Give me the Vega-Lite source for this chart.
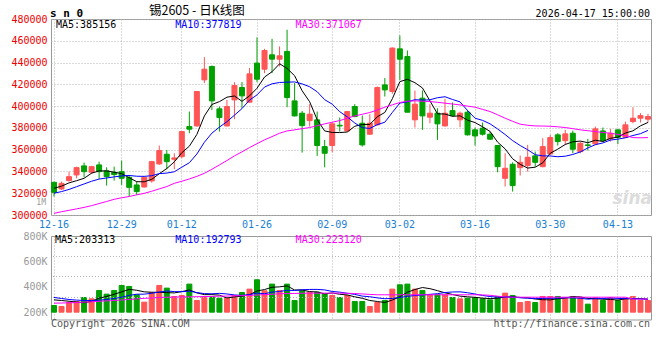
{
 "$schema": "https://vega.github.io/schema/vega-lite/v6.json",
 "background": "#ffffff",
 "padding": {"left": 10, "top": 4, "right": 0, "bottom": 0},
 "spacing": 21,
 "bounds": "flush",
 "config": {
  "view": {"stroke": "#999999", "strokeWidth": 1},
  "axis": {"labelFont": "DejaVu Sans Mono", "labelFontSize": 10, "ticks": false, "domain": false, "title": null, "gridColor": "#b4b4b4", "gridDash": [1, 2], "gridWidth": 1, "labelPadding": 4, "labelOverlap": false},
  "text": {"font": "DejaVu Sans Mono", "fontSize": 10, "baseline": "middle"}
 },
 "datasets": {
  "k": [
{"d":"12-16","o":330000,"h":330700,"l":316900,"c":320800,"v":252600,"m5":324500,"m10":320000,"m30":301500,"vm5":297000,"vm10":316000,"vm30":271000},
{"d":"12-17","o":323900,"h":330700,"l":323000,"c":329100,"v":244700,"m5":326500,"m10":321500,"m30":303000,"vm5":292000,"vm10":308000,"vm30":272000},
{"d":"12-18","o":331600,"h":339800,"l":330700,"c":335200,"v":276300,"m5":329500,"m10":323500,"m30":304300,"vm5":286000,"vm10":300000,"vm30":274000},
{"d":"12-19","o":336800,"h":344400,"l":333700,"c":343500,"v":284200,"m5":331500,"m10":326000,"m30":305600,"vm5":280000,"vm10":295000,"vm30":276000},
{"d":"12-22","o":345100,"h":348100,"l":334600,"c":339800,"v":315800,"m5":333700,"m10":328500,"m30":307000,"vm5":274700,"vm10":292000,"vm30":279000},
{"d":"12-23","o":339200,"h":345100,"l":337700,"c":344400,"v":305300,"m5":338400,"m10":331000,"m30":308600,"vm5":285300,"vm10":292000,"vm30":282000},
{"d":"12-24","o":346000,"h":349000,"l":333100,"c":339800,"v":371100,"m5":340500,"m10":333000,"m30":310500,"vm5":310500,"vm10":294000,"vm30":286000},
{"d":"12-25","o":340500,"h":343800,"l":327000,"c":335200,"v":342100,"m5":340500,"m10":334000,"m30":312400,"vm5":323700,"vm10":300000,"vm30":289000},
{"d":"12-26","o":339200,"h":344400,"l":331600,"c":337100,"v":371100,"m5":339300,"m10":335000,"m30":314400,"vm5":341100,"vm10":308000,"vm30":292000},
{"d":"12-29","o":339800,"h":350000,"l":327600,"c":333700,"v":410600,"m5":338000,"m10":335900,"m30":315800,"vm5":360000,"vm10":317400,"vm30":296000},
{"d":"12-30","o":334600,"h":336800,"l":316900,"c":325400,"v":402700,"m5":334200,"m10":336300,"m30":317000,"vm5":379500,"vm10":332400,"vm30":300000},
{"d":"12-31","o":327600,"h":330700,"l":318400,"c":321500,"v":336900,"m5":330600,"m10":335600,"m30":318500,"vm5":372700,"vm10":341600,"vm30":305000},
{"d":"01-05","o":325700,"h":335200,"l":325400,"c":334600,"v":279000,"m5":330500,"m10":335500,"m30":319900,"vm5":360100,"vm10":341900,"vm30":309000},
{"d":"01-06","o":331300,"h":349700,"l":329700,"c":349000,"v":355300,"m5":332800,"m10":336100,"m30":321800,"vm5":356900,"vm10":349000,"vm30":312000},
{"d":"01-07","o":346900,"h":363800,"l":346000,"c":359200,"v":410600,"m5":337900,"m10":338000,"m30":324000,"vm5":356900,"vm10":358500,"vm30":316000},
{"d":"01-08","o":355800,"h":359800,"l":342000,"c":349000,"v":389500,"m5":342700,"m10":338500,"m30":326100,"vm5":354300,"vm10":366900,"vm30":318000},
{"d":"01-09","o":351200,"h":356700,"l":342000,"c":352400,"v":323700,"m5":348800,"m10":339700,"m30":329100,"vm5":351600,"vm10":362200,"vm30":319000},
{"d":"01-12","o":353600,"h":377200,"l":352100,"c":376600,"v":331600,"m5":357200,"m10":343900,"m30":331000,"vm5":362100,"vm10":361100,"vm30":320000},
{"d":"01-13","o":381200,"h":395000,"l":375100,"c":378800,"v":421100,"m5":363200,"m10":348000,"m30":333100,"vm5":375300,"vm10":366100,"vm30":321000},
{"d":"01-14","o":381800,"h":413400,"l":381200,"c":413400,"v":292100,"m5":374000,"m10":356000,"m30":335500,"vm5":351600,"vm10":354300,"vm30":322000},
{"d":"01-15","o":424100,"h":445000,"l":421100,"c":433900,"v":323700,"m5":391000,"m10":366800,"m30":338300,"vm5":338400,"vm10":346400,"vm30":323000},
{"d":"01-16","o":436400,"h":437300,"l":396500,"c":404800,"v":323700,"m5":401500,"m10":375200,"m30":342000,"vm5":338400,"vm10":345000,"vm30":324000},
{"d":"01-19","o":397500,"h":399600,"l":376600,"c":389500,"v":310500,"m5":404100,"m10":380700,"m30":346000,"vm5":334200,"vm10":348200,"vm30":326000},
{"d":"01-20","o":381800,"h":405700,"l":381200,"c":399600,"v":310500,"m5":408200,"m10":385700,"m30":350000,"vm5":312100,"vm10":343700,"vm30":327000},
{"d":"01-21","o":405700,"h":422000,"l":388000,"c":418900,"v":331600,"m5":409300,"m10":391700,"m30":354300,"vm5":320000,"vm10":335800,"vm30":329000},
{"d":"01-22","o":417100,"h":422000,"l":398100,"c":409400,"v":355300,"m5":404400,"m10":397700,"m30":358000,"vm5":326300,"vm10":332400,"vm30":330000},
{"d":"01-23","o":403600,"h":434900,"l":403300,"c":429600,"v":381600,"m5":409400,"m10":405500,"m30":361900,"vm5":337900,"vm10":338200,"vm30":332000},
{"d":"01-26","o":439500,"h":463100,"l":422000,"c":424700,"v":455300,"m5":416400,"m10":410300,"m30":365500,"vm5":366900,"vm10":350500,"vm30":335000},
{"d":"01-27","o":433900,"h":452600,"l":430300,"c":451100,"v":368400,"m5":426700,"m10":417500,"m30":369000,"vm5":378400,"vm10":345300,"vm30":338000},
{"d":"01-28","o":447100,"h":461800,"l":430300,"c":443100,"v":421100,"m5":431600,"m10":420500,"m30":372000,"vm5":396300,"vm10":358200,"vm30":341000},
{"d":"01-29","o":443100,"h":454800,"l":436400,"c":446200,"v":371100,"m5":438900,"m10":421700,"m30":375100,"vm5":399500,"vm10":362900,"vm30":345000},
{"d":"01-30","o":450200,"h":470100,"l":399000,"c":407900,"v":421100,"m5":434600,"m10":422000,"m30":377200,"vm5":407400,"vm10":372700,"vm30":347000},
{"d":"02-02","o":404800,"h":421100,"l":390500,"c":391000,"v":292100,"m5":427900,"m10":422200,"m30":378200,"vm5":374800,"vm10":370800,"vm30":348000},
{"d":"02-03","o":393500,"h":395600,"l":357300,"c":382100,"v":368400,"m5":414100,"m10":420400,"m30":379300,"vm5":374800,"vm10":376600,"vm30":349000},
{"d":"02-04","o":386700,"h":401800,"l":381200,"c":392600,"v":357900,"m5":404000,"m10":417800,"m30":380300,"vm5":362100,"vm10":379200,"vm30":350000},
{"d":"02-05","o":387400,"h":395000,"l":354300,"c":363800,"v":357900,"m5":387500,"m10":413200,"m30":382000,"vm5":359500,"vm10":379500,"vm30":350000},
{"d":"02-06","o":362800,"h":369000,"l":343800,"c":356700,"v":342100,"m5":377200,"m10":405900,"m30":383700,"vm5":343700,"vm10":375500,"vm30":350000},
{"d":"02-09","o":363800,"h":384900,"l":357600,"c":383700,"v":331600,"m5":375800,"m10":401800,"m30":385200,"vm5":351600,"vm10":363200,"vm30":350000},
{"d":"02-10","o":382400,"h":389500,"l":376600,"c":381800,"v":315800,"m5":375700,"m10":394900,"m30":386700,"vm5":341100,"vm10":357900,"vm30":350000},
{"d":"02-11","o":377200,"h":395600,"l":376600,"c":395000,"v":331600,"m5":376200,"m10":390100,"m30":388900,"vm5":335800,"vm10":349000,"vm30":349000},
{"d":"02-12","o":399600,"h":401800,"l":389800,"c":390400,"v":284200,"m5":381500,"m10":384500,"m30":391000,"vm5":321100,"vm10":340300,"vm30":347000},
{"d":"02-13","o":384300,"h":391300,"l":362800,"c":364400,"v":284200,"m5":383100,"m10":380200,"m30":392500,"vm5":309500,"vm10":326600,"vm30":344000},
{"d":"02-24","o":374200,"h":392600,"l":373600,"c":384300,"v":244700,"m5":383200,"m10":379500,"m30":394100,"vm5":292100,"vm10":321800,"vm30":340000},
{"d":"02-25","o":382800,"h":418000,"l":382100,"c":417100,"v":276300,"m5":390200,"m10":383000,"m30":396500,"vm5":284200,"vm10":312600,"vm30":337000},
{"d":"02-26","o":419500,"h":425700,"l":408800,"c":414900,"v":292100,"m5":394200,"m10":385200,"m30":399000,"vm5":276300,"vm10":306100,"vm30":337000},
{"d":"02-27","o":413400,"h":453900,"l":411300,"c":453300,"v":381600,"m5":406800,"m10":394200,"m30":401200,"vm5":295800,"vm10":308400,"vm30":337000},
{"d":"03-02","o":452600,"h":464900,"l":424100,"c":443100,"v":415800,"m5":422500,"m10":402800,"m30":403300,"vm5":322100,"vm10":315800,"vm30":337000},
{"d":"03-03","o":445600,"h":451100,"l":394400,"c":394400,"v":421100,"m5":424600,"m10":403900,"m30":404500,"vm5":357400,"vm10":324700,"vm30":337000},
{"d":"03-04","o":387400,"h":414300,"l":380300,"c":401800,"v":381600,"m5":421500,"m10":405900,"m30":404800,"vm5":378400,"vm10":331300,"vm30":337000},
{"d":"03-05","o":407300,"h":414300,"l":378200,"c":391000,"v":371100,"m5":416700,"m10":405500,"m30":404500,"vm5":394200,"vm10":335300,"vm30":337000},
{"d":"03-06","o":389800,"h":401800,"l":384300,"c":393500,"v":336900,"m5":404800,"m10":405800,"m30":404200,"vm5":385300,"vm10":340500,"vm30":337000},
{"d":"03-09","o":393500,"h":398100,"l":369000,"c":383700,"v":336900,"m5":392900,"m10":407700,"m30":403500,"vm5":369500,"vm10":345800,"vm30":337000},
{"d":"03-10","o":381800,"h":406700,"l":381200,"c":393500,"v":336900,"m5":392700,"m10":408600,"m30":402700,"vm5":352700,"vm10":355000,"vm30":337000},
{"d":"03-11","o":395900,"h":403300,"l":390400,"c":391300,"v":315800,"m5":390600,"m10":406100,"m30":401900,"vm5":339500,"vm10":359000,"vm30":337000},
{"d":"03-12","o":387400,"h":395000,"l":380600,"c":393500,"v":305300,"m5":391100,"m10":403900,"m30":401100,"vm5":326400,"vm10":360300,"vm30":337000},
{"d":"03-13","o":394400,"h":396500,"l":373000,"c":373600,"v":310500,"m5":387100,"m10":395900,"m30":400000,"vm5":321100,"vm10":353200,"vm30":337000},
{"d":"03-16","o":378200,"h":380300,"l":363800,"c":372600,"v":315800,"m5":384900,"m10":388900,"m30":399000,"vm5":316900,"vm10":343200,"vm30":337000},
{"d":"03-17","o":379700,"h":384900,"l":373000,"c":374200,"v":305300,"m5":381000,"m10":386900,"m30":397000,"vm5":310500,"vm10":331600,"vm30":336000},
{"d":"03-18","o":374200,"h":376600,"l":369000,"c":369600,"v":297400,"m5":376700,"m10":383700,"m30":395000,"vm5":306900,"vm10":323200,"vm30":333000},
{"d":"03-19","o":363800,"h":364400,"l":339200,"c":344400,"v":323700,"m5":366900,"m10":379000,"m30":392000,"vm5":310500,"vm10":318500,"vm30":326000},
{"d":"03-20","o":333700,"h":356700,"l":326100,"c":342900,"v":350000,"m5":360700,"m10":373900,"m30":388900,"vm5":318400,"vm10":319800,"vm30":320000},
{"d":"03-23","o":346600,"h":348400,"l":321500,"c":327000,"v":331600,"m5":351600,"m10":368300,"m30":386000,"vm5":321600,"vm10":319200,"vm30":318000},
{"d":"03-24","o":343500,"h":354600,"l":336200,"c":348400,"v":276300,"m5":346500,"m10":363800,"m30":383400,"vm5":315800,"vm10":313200,"vm30":318000},
{"d":"03-25","o":345400,"h":364400,"l":339800,"c":353000,"v":284200,"m5":343100,"m10":359900,"m30":382400,"vm5":313200,"vm10":310000,"vm30":318000},
{"d":"03-26","o":354300,"h":358200,"l":344400,"c":348400,"v":276300,"m5":343900,"m10":355400,"m30":381800,"vm5":303700,"vm10":307100,"vm30":318000},
{"d":"03-27","o":344400,"h":370500,"l":343800,"c":362800,"v":323700,"m5":347900,"m10":354300,"m30":381700,"vm5":298400,"vm10":308400,"vm30":318000},
{"d":"03-30","o":356100,"h":373600,"l":355200,"c":371100,"v":323700,"m5":356700,"m10":354200,"m30":381500,"vm5":296800,"vm10":309200,"vm30":318000},
{"d":"03-31","o":373600,"h":375100,"l":363800,"c":367400,"v":323700,"m5":360500,"m10":353500,"m30":381000,"vm5":306300,"vm10":311100,"vm30":318000},
{"d":"04-01","o":368300,"h":378200,"l":364400,"c":374500,"v":315800,"m5":364800,"m10":354000,"m30":380300,"vm5":312600,"vm10":312900,"vm30":318000},
{"d":"04-02","o":375100,"h":377500,"l":356700,"c":360400,"v":323700,"m5":367200,"m10":355600,"m30":379300,"vm5":322100,"vm10":312900,"vm30":318000},
{"d":"04-03","o":358200,"h":367400,"l":356700,"c":365900,"v":315800,"m5":367900,"m10":357900,"m30":378200,"vm5":320500,"vm10":309500,"vm30":318000},
{"d":"04-07","o":364400,"h":369900,"l":359200,"c":363800,"v":263200,"m5":366400,"m10":361600,"m30":377400,"vm5":308400,"vm10":302600,"vm30":318000},
{"d":"04-08","o":365300,"h":381200,"l":364400,"c":379100,"v":315800,"m5":368700,"m10":364600,"m30":376600,"vm5":306900,"vm10":306600,"vm30":318000},
{"d":"04-09","o":377200,"h":380300,"l":367400,"c":368300,"v":292100,"m5":367500,"m10":366200,"m30":375800,"vm5":302100,"vm10":307400,"vm30":318000},
{"d":"04-10","o":369900,"h":379100,"l":367400,"c":375100,"v":315800,"m5":370400,"m10":368800,"m30":375100,"vm5":300500,"vm10":311300,"vm30":318000},
{"d":"04-13","o":378200,"h":378800,"l":365000,"c":371400,"v":292100,"m5":371500,"m10":369700,"m30":374000,"vm5":295800,"vm10":308200,"vm30":318000},
{"d":"04-14","o":371400,"h":385800,"l":370800,"c":382800,"v":310500,"m5":375300,"m10":370900,"m30":372900,"vm5":305300,"vm10":306900,"vm30":318000},
{"d":"04-15","o":385800,"h":399000,"l":384300,"c":388900,"v":323700,"m5":377300,"m10":373000,"m30":371100,"vm5":306800,"vm10":306900,"vm30":303000},
{"d":"04-16","o":388900,"h":393500,"l":384900,"c":391300,"v":292100,"m5":381900,"m10":374700,"m30":370900,"vm5":306800,"vm10":304500,"vm30":303000},
{"d":"04-17","o":388000,"h":392900,"l":384900,"c":390400,"v":292100,"m5":385000,"m10":377700,"m30":371100,"vm5":302100,"vm10":301300,"vm30":303000}
  ]
 },
 "vconcat": [
  {
   "width": 600,
   "height": 196,
   "data": {"name": "k"},
   "layer": [
    {
     "mark": {"type": "rule", "strokeWidth": 1},
     "encoding": {
      "x": {"field": "d", "type": "ordinal",
       "scale": {"domain": ["12-16","12-17","12-18","12-19","12-22","12-23","12-24","12-25","12-26","12-29","12-30","12-31","01-05","01-06","01-07","01-08","01-09","01-12","01-13","01-14","01-15","01-16","01-19","01-20","01-21","01-22","01-23","01-26","01-27","01-28","01-29","01-30","02-02","02-03","02-04","02-05","02-06","02-09","02-10","02-11","02-12","02-13","02-24","02-25","02-26","02-27","03-02","03-03","03-04","03-05","03-06","03-09","03-10","03-11","03-12","03-13","03-16","03-17","03-18","03-19","03-20","03-23","03-24","03-25","03-26","03-27","03-30","03-31","04-01","04-02","04-03","04-07","04-08","04-09","04-10","04-13","04-14","04-15","04-16","04-17"], "paddingInner": 0.2, "paddingOuter": 0},
       "axis": {"values": ["12-16","12-29","01-12","01-26","02-09","03-02","03-16","03-30","04-13"], "labelColor": "#1a7fd4", "labelAngle": 0, "grid": true, "bandPosition": 0.5, "labelOverlap": false}},
      "y": {"field": "h", "type": "quantitative",
       "scale": {"domain": [300000, 480000], "nice": false, "zero": false},
       "axis": {"values": [300000,320000,340000,360000,380000,400000,420000,440000,460000,480000], "tickCount": 30, "format": "d", "labelColor": "#ee0000", "grid": true, "labelOverlap": false}},
      "y2": {"field": "l"},
      "color": {"condition": {"test": "datum.c >= datum.o", "value": "#ff5555"}, "value": "#00a000"}
     }
    },
    {
     "mark": {"type": "bar", "width": 5, "strokeWidth": 1},
     "encoding": {
      "x": {"field": "d", "type": "ordinal"},
      "y": {"field": "o", "type": "quantitative"},
      "y2": {"field": "c"},
      "color": {"condition": {"test": "datum.c >= datum.o", "value": "#ff5555"}, "value": "#00a000"},
      "stroke": {"condition": {"test": "datum.c >= datum.o", "value": "#ff5555"}, "value": "#00a000"}
     }
    },
    {"mark": {"type": "line", "color": "#000000", "strokeWidth": 1}, "encoding": {"x": {"field": "d", "type": "ordinal"}, "y": {"field": "m5", "type": "quantitative"}}},
    {"mark": {"type": "line", "color": "#0000ff", "strokeWidth": 1}, "encoding": {"x": {"field": "d", "type": "ordinal"}, "y": {"field": "m10", "type": "quantitative"}}},
    {"mark": {"type": "line", "color": "#ff00ff", "strokeWidth": 1}, "encoding": {"x": {"field": "d", "type": "ordinal"}, "y": {"field": "m30", "type": "quantitative"}}},
    {"data": {"values": [{}]}, "mark": {"type": "text", "text": "s n 0", "align": "left", "dx": -4, "fontSize": 11, "fontWeight": "bold", "color": "#000000"}, "encoding": {"x": {"datum": "12-16", "type": "ordinal"}, "y": {"datum": 485000, "type": "quantitative"}}},
    {"data": {"values": [{}]}, "mark": {"type": "text", "text": "锡2605 - 日K线图", "align": "center", "font": "Noto Sans CJK SC", "fontSize": 12.5, "color": "#000000"}, "encoding": {"x": {"datum": "01-14", "type": "ordinal"}, "y": {"datum": 487000, "type": "quantitative"}}},
    {"data": {"values": [{}]}, "mark": {"type": "text", "text": "2026-04-17 15:00:00", "align": "right", "dx": 2, "color": "#000000"}, "encoding": {"x": {"datum": "04-17", "type": "ordinal"}, "y": {"datum": 485000, "type": "quantitative"}}},
    {"data": {"values": [{}]}, "mark": {"type": "text", "text": "MA5:385156", "align": "left", "dx": 2, "color": "#000000"}, "encoding": {"x": {"datum": "12-16", "type": "ordinal"}, "y": {"datum": 474500, "type": "quantitative"}}},
    {"data": {"values": [{}]}, "mark": {"type": "text", "text": "MA10:377819", "align": "left", "dx": 1, "color": "#0000ff"}, "encoding": {"x": {"datum": "01-09", "type": "ordinal"}, "y": {"datum": 474500, "type": "quantitative"}}},
    {"data": {"values": [{}]}, "mark": {"type": "text", "text": "MA30:371067", "align": "left", "dx": 1, "color": "#ff00ff"}, "encoding": {"x": {"datum": "02-02", "type": "ordinal"}, "y": {"datum": 474500, "type": "quantitative"}}},
    {"data": {"values": [{}]}, "mark": {"type": "text", "text": "1M", "align": "right", "dx": -8, "fontSize": 8, "color": "#999999"}, "encoding": {"x": {"datum": "12-16", "type": "ordinal"}, "y": {"datum": 310600, "type": "quantitative"}}},
    {"data": {"values": [{}]}, "mark": {"type": "text", "text": "sina", "align": "right", "dx": 4, "font": "DejaVu Sans", "fontSize": 17, "fontWeight": "bold", "fontStyle": "italic", "color": "#dcdcdc"}, "encoding": {"x": {"datum": "04-17", "type": "ordinal"}, "y": {"datum": 315000, "type": "quantitative"}}}
   ]
  },
  {
   "width": 600,
   "height": 83.5,
   "layer": [
    {
     "data": {"name": "k"},
     "mark": {"type": "bar", "width": 5, "strokeWidth": 1},
     "encoding": {
      "x": {"field": "d", "type": "ordinal",
       "scale": {"domain": ["12-16","12-17","12-18","12-19","12-22","12-23","12-24","12-25","12-26","12-29","12-30","12-31","01-05","01-06","01-07","01-08","01-09","01-12","01-13","01-14","01-15","01-16","01-19","01-20","01-21","01-22","01-23","01-26","01-27","01-28","01-29","01-30","02-02","02-03","02-04","02-05","02-06","02-09","02-10","02-11","02-12","02-13","02-24","02-25","02-26","02-27","03-02","03-03","03-04","03-05","03-06","03-09","03-10","03-11","03-12","03-13","03-16","03-17","03-18","03-19","03-20","03-23","03-24","03-25","03-26","03-27","03-30","03-31","04-01","04-02","04-03","04-07","04-08","04-09","04-10","04-13","04-14","04-15","04-16","04-17"], "paddingInner": 0.2, "paddingOuter": 0},
       "axis": {"values": ["12-16","12-29","01-12","01-26","02-09","03-02","03-16","03-30","04-13"], "labels": false, "grid": true, "bandPosition": 0.5}},
      "y": {"field": "v", "type": "quantitative",
       "scale": {"domain": [142400, 800000], "nice": false, "zero": false},
       "axis": {"values": [200000, 400000, 600000, 800000], "tickCount": 30, "labelExpr": "(datum.value / 1000) + 'K'", "labelColor": "#999999", "grid": false, "labelOverlap": false}},
      "y2": {"datum": 200000},
      "color": {"condition": {"test": "datum.c >= datum.o", "value": "#ff5555"}, "value": "#00a000"},
      "stroke": {"condition": {"test": "datum.c >= datum.o", "value": "#ff5555"}, "value": "#00a000"}
     }
    },
    {
     "data": {"values": [{"g": 638600}, {"g": 481000}, {"g": 315600}]},
     "mark": {"type": "rule", "color": "#b4b4b4", "strokeDash": [1, 2], "strokeWidth": 1},
     "encoding": {"y": {"field": "g", "type": "quantitative"}}
    },
    {"data": {"name": "k"}, "mark": {"type": "line", "color": "#000000", "strokeWidth": 1}, "encoding": {"x": {"field": "d", "type": "ordinal"}, "y": {"field": "vm5", "type": "quantitative"}}},
    {"data": {"name": "k"}, "mark": {"type": "line", "color": "#0000ff", "strokeWidth": 1}, "encoding": {"x": {"field": "d", "type": "ordinal"}, "y": {"field": "vm10", "type": "quantitative"}}},
    {"data": {"name": "k"}, "mark": {"type": "line", "color": "#ff00ff", "strokeWidth": 1}, "encoding": {"x": {"field": "d", "type": "ordinal"}, "y": {"field": "vm30", "type": "quantitative"}}},
    {"data": {"values": [{}]}, "mark": {"type": "text", "text": "MA5:203313", "align": "left", "dx": 1, "color": "#000000"}, "encoding": {"x": {"datum": "12-16", "type": "ordinal"}, "y": {"datum": 770000, "type": "quantitative"}}},
    {"data": {"values": [{}]}, "mark": {"type": "text", "text": "MA10:192793", "align": "left", "dx": 1, "color": "#0000ff"}, "encoding": {"x": {"datum": "01-09", "type": "ordinal"}, "y": {"datum": 770000, "type": "quantitative"}}},
    {"data": {"values": [{}]}, "mark": {"type": "text", "text": "MA30:223120", "align": "left", "dx": 1, "color": "#ff00ff"}, "encoding": {"x": {"datum": "02-02", "type": "ordinal"}, "y": {"datum": 770000, "type": "quantitative"}}},
    {"data": {"values": [{}]}, "mark": {"type": "text", "text": "Copyright 2026 SINA.COM", "align": "left", "dx": -3, "color": "#555555"}, "encoding": {"x": {"datum": "12-16", "type": "ordinal"}, "y": {"datum": 107000, "type": "quantitative"}}},
    {"data": {"values": [{}]}, "mark": {"type": "text", "text": "http://finance.sina.com.cn", "align": "right", "dx": 2, "color": "#555555"}, "encoding": {"x": {"datum": "04-17", "type": "ordinal"}, "y": {"datum": 107000, "type": "quantitative"}}}
   ]
  }
 ]
}
